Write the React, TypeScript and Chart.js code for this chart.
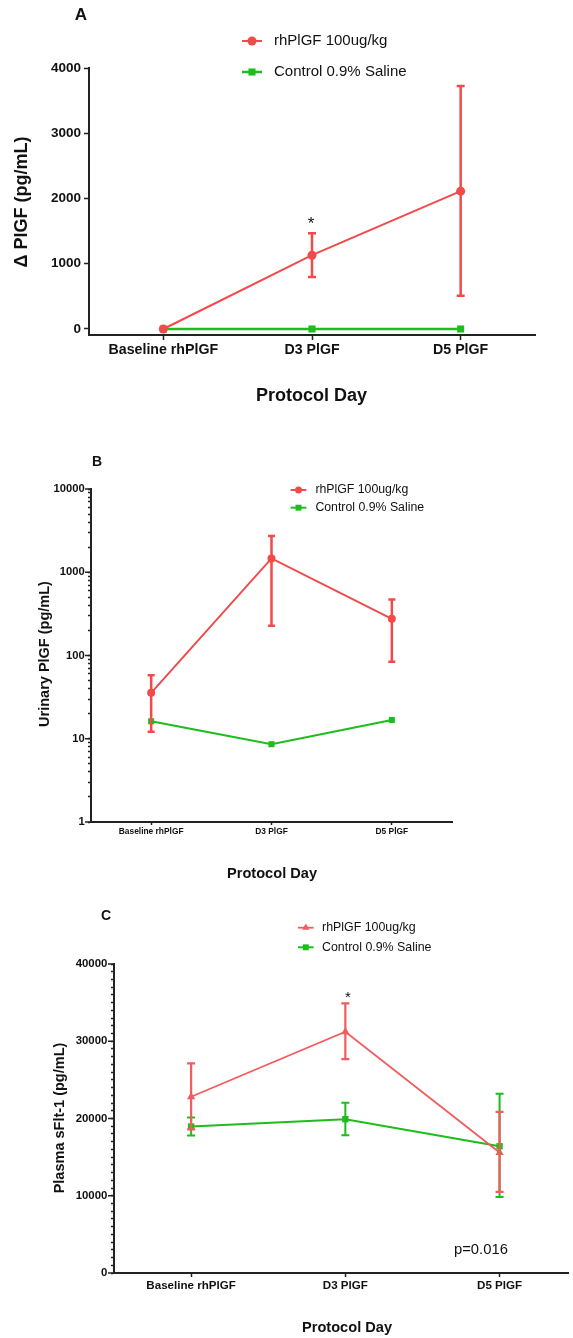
import React, { useEffect, useRef } from 'react';
import { Chart, registerables } from 'chart.js';

Chart.register(...registerables);

const FONT = '"Liberation Sans", Arial, Helvetica, sans-serif';

// ---------- data ----------
const categories = ['Baseline rhPlGF', 'D3 PlGF', 'D5 PlGF'];
const seriesNames = ['rhPlGF 100ug/kg', 'Control 0.9% Saline'];

// Panel A: delta PlGF (pg/mL)
const aTreat = [0, 1131, 2113];
const aTreatLo: (number | null)[] = [null, 798, 511];
const aTreatHi: (number | null)[] = [null, 1468, 3724];
const aCtrl = [0, 0, 0];
const aCtrlLo: (number | null)[] = [null, null, null];
const aCtrlHi: (number | null)[] = [null, null, null];
const aYTicks = [0, 1000, 2000, 3000, 4000];

// Panel B: urinary PlGF (pg/mL), log scale
const bTreat = [35.6, 1467, 276];
const bTreatLo: (number | null)[] = [12.1, 227, 84];
const bTreatHi: (number | null)[] = [58, 2722, 471];
const bCtrl = [16.2, 8.6, 16.8];
const bCtrlLo: (number | null)[] = [null, null, null];
const bCtrlHi: (number | null)[] = [null, null, null];
const bYMajor = [1, 10, 100, 1000, 10000];

// Panel C: plasma sFlt-1 (pg/mL)
const cTreat = [22810, 31230, 15590];
const cTreatLo: (number | null)[] = [18600, 27690, 10500];
const cTreatHi: (number | null)[] = [27130, 34900, 20860];
const cCtrl = [18960, 19910, 16410];
const cCtrlLo: (number | null)[] = [17800, 17840, 9850];
const cCtrlHi: (number | null)[] = [20130, 22030, 23200];
const cYMajor = [0, 10000, 20000, 30000, 40000];

// minor tick positions (axis decoration)
const bYTicks: number[] = [];
for (let d = 0; d < 4; d++) for (let m = 1; m < 10; m++) bYTicks.push(m * Math.pow(10, d));
bYTicks.push(10000);
const cYTicks: number[] = [];
for (let v = 0; v <= 40000; v += 1000) cYTicks.push(v);

const RED = '#f24a4a';
const RED_C = '#f25c5c';
const GREEN = '#1dbd1d';
const TXT = '#111';
const AXIS = '#222';

type Series = {
  label: string; values: number[]; lo: (number | null)[]; hi: (number | null)[];
  color: string; pointStyle: string; radius: number; lineWidth: number; errWidth: number; cap: number;
  legendRadius: number;
};
type TextItem = { text: string; x: number; y: number; size: number; bold?: boolean; align?: CanvasTextAlign; rotate?: boolean; baseline?: CanvasTextBaseline };
type Panel = {
  top: number; height: number;
  area: { left: number; right: number; top: number; bottom: number };
  x: { min: number; max: number; fontSize: number; tickLen: number; pad: number };
  y: { type: 'linear' | 'logarithmic'; min: number; max: number; ticks: number[]; major: number[]; fontSize: number; tickLen: number; pad: number; majorLen: number };
  border: number;
  series: Series[];
  legend: { ys: number[]; x1: number; x2: number; mx: number; tx: number; size: number };
  texts: TextItem[];
};

const panelA: Panel = {
  top: 0, height: 440,
  area: { left: 89, right: 535, top: 68, bottom: 335 },
  x: { min: -0.5, max: 2.5, fontSize: 14.2, tickLen: 5, pad: 2 },
  y: { type: 'linear', min: -92, max: 4000, ticks: aYTicks, major: aYTicks, fontSize: 13.5, tickLen: 5, pad: 3, majorLen: 0 },
  border: 2,
  series: [
    { label: seriesNames[0], values: aTreat, lo: aTreatLo, hi: aTreatHi, color: RED, pointStyle: 'circle', radius: 4.5, lineWidth: 2, errWidth: 2.5, cap: 4, legendRadius: 4.5 },
    { label: seriesNames[1], values: aCtrl, lo: aCtrlLo, hi: aCtrlHi, color: GREEN, pointStyle: 'rect', radius: 5, lineWidth: 2.5, errWidth: 2.5, cap: 4, legendRadius: 5 },
  ],
  legend: { ys: [41, 72], x1: 242, x2: 262, mx: 252, tx: 274, size: 15 },
  texts: [
    { text: 'A', x: 81, y: 15, size: 17, bold: true },
    { text: 'Δ PlGF (pg/mL)', x: 22, y: 202, size: 18, bold: true, rotate: true },
    { text: 'Protocol Day', x: 311.5, y: 396, size: 18, bold: true },
    { text: '*', x: 311, y: 229, size: 17, baseline: 'alphabetic' },
  ],
};

const panelB: Panel = {
  top: 440, height: 460,
  area: { left: 91, right: 452, top: 49, bottom: 382 },
  x: { min: -0.5, max: 2.5, fontSize: 8.4, tickLen: 3, pad: 1.3 },
  y: { type: 'logarithmic', min: 1, max: 10000, ticks: bYTicks, major: bYMajor, fontSize: 11.2, tickLen: 3, pad: 3.4, majorLen: 6 },
  border: 2,
  series: [
    { label: seriesNames[0], values: bTreat, lo: bTreatLo, hi: bTreatHi, color: RED, pointStyle: 'circle', radius: 4, lineWidth: 2, errWidth: 2.5, cap: 3.5, legendRadius: 3.5 },
    { label: seriesNames[1], values: bCtrl, lo: bCtrlLo, hi: bCtrlHi, color: GREEN, pointStyle: 'rect', radius: 4.3, lineWidth: 2, errWidth: 2, cap: 3.5, legendRadius: 4.2 },
  ],
  legend: { ys: [50, 67.7], x1: 290.6, x2: 306.3, mx: 298.5, tx: 315.4, size: 12.3 },
  texts: [
    { text: 'B', x: 97, y: 22, size: 14, bold: true },
    { text: 'Urinary PlGF (pg/mL)', x: 44.6, y: 214, size: 14.5, bold: true, rotate: true },
    { text: 'Protocol Day', x: 272, y: 434, size: 14.6, bold: true },
  ],
};

const panelC: Panel = {
  top: 900, height: 438,
  area: { left: 114, right: 573, top: 64, bottom: 373 },
  x: { min: -0.5, max: 2.445, fontSize: 11.6, tickLen: 4, pad: 2 },
  y: { type: 'linear', min: 0, max: 40000, ticks: cYTicks, major: cYMajor, fontSize: 11.4, tickLen: 3, pad: 3.7, majorLen: 6 },
  border: 2,
  series: [
    { label: seriesNames[0], values: cTreat, lo: cTreatLo, hi: cTreatHi, color: RED_C, pointStyle: 'triangle', radius: 4.8, lineWidth: 1.8, errWidth: 2.2, cap: 4, legendRadius: 4.2 },
    { label: seriesNames[1], values: cCtrl, lo: cCtrlLo, hi: cCtrlHi, color: GREEN, pointStyle: 'rect', radius: 4.5, lineWidth: 2, errWidth: 2, cap: 4, legendRadius: 4.2 },
  ],
  legend: { ys: [27.7, 47.3], x1: 298, x2: 313.6, mx: 305.8, tx: 322, size: 12.4 },
  texts: [
    { text: 'C', x: 106, y: 16, size: 14, bold: true },
    { text: 'Plasma sFlt-1 (pg/mL)', x: 59.6, y: 218, size: 14.5, bold: true, rotate: true },
    { text: 'Protocol Day', x: 347, y: 428, size: 14.6, bold: true },
    { text: '*', x: 348, y: 101.5, size: 15, baseline: 'alphabetic' },
    { text: 'p=0.016', x: 454, y: 350, size: 14.8, align: 'left' },
  ],
};

const panels = [panelA, panelB, panelC];

function drawMarker(ctx: CanvasRenderingContext2D, style: string, x: number, y: number, r: number, color: string) {
  ctx.fillStyle = color;
  ctx.beginPath();
  if (style === 'circle') {
    ctx.arc(x, y, r, 0, Math.PI * 2);
  } else if (style === 'rect') {
    const s = Math.SQRT1_2 * r;
    ctx.rect(x - s, y - s, 2 * s, 2 * s);
  } else {
    let rad = 0;
    ctx.moveTo(x + Math.sin(rad) * r, y - Math.cos(rad) * r);
    rad += (2 * Math.PI) / 3;
    ctx.lineTo(x + Math.sin(rad) * r, y - Math.cos(rad) * r);
    rad += (2 * Math.PI) / 3;
    ctx.lineTo(x + Math.sin(rad) * r, y - Math.cos(rad) * r);
    ctx.closePath();
  }
  ctx.fill();
}

function overlay(p: Panel) {
  return {
    id: 'overlay' + p.top,
    afterDatasetsDraw(chart: any) {
      const ctx: CanvasRenderingContext2D = chart.ctx;
      const xs = chart.scales.x;
      const ys = chart.scales.y;
      ctx.save();
      // error bars (control first so treatment sits on top)
      for (let k = p.series.length - 1; k >= 0; k--) {
        const s = p.series[k];
        ctx.strokeStyle = s.color;
        ctx.lineWidth = s.errWidth;
        s.values.forEach((_, i) => {
          const lo = s.lo[i];
          const hi = s.hi[i];
          if (lo == null || hi == null) return;
          const px = xs.getPixelForValue(i);
          const y1 = ys.getPixelForValue(lo);
          const y2 = ys.getPixelForValue(hi);
          ctx.beginPath();
          ctx.moveTo(px, y1); ctx.lineTo(px, y2);
          ctx.moveTo(px - s.cap, y1); ctx.lineTo(px + s.cap, y1);
          ctx.moveTo(px - s.cap, y2); ctx.lineTo(px + s.cap, y2);
          ctx.stroke();
        });
      }
      // longer major ticks on y axis
      if (p.y.majorLen > 0) {
        ctx.strokeStyle = AXIS;
        ctx.lineWidth = 1.5;
        const left = chart.chartArea.left;
        p.y.major.forEach((v) => {
          const py = ys.getPixelForValue(v);
          ctx.beginPath();
          ctx.moveTo(left - p.y.majorLen, py);
          ctx.lineTo(left, py);
          ctx.stroke();
        });
      }
      // legend
      const lg = p.legend;
      p.series.forEach((s, i) => {
        const y = lg.ys[i];
        ctx.strokeStyle = s.color;
        ctx.lineWidth = s.lineWidth;
        ctx.beginPath();
        ctx.moveTo(lg.x1, y); ctx.lineTo(lg.x2, y);
        ctx.stroke();
        drawMarker(ctx, s.pointStyle, lg.mx, y, s.legendRadius, s.color);
        ctx.fillStyle = TXT;
        ctx.font = `${lg.size}px ${FONT}`;
        ctx.textAlign = 'left';
        ctx.textBaseline = 'middle';
        ctx.fillText(s.label, lg.tx, y);
      });
      // free texts
      p.texts.forEach((t) => {
        ctx.save();
        ctx.fillStyle = TXT;
        ctx.font = `${t.bold ? 'bold ' : ''}${t.size}px ${FONT}`;
        ctx.textAlign = t.align || 'center';
        ctx.textBaseline = t.baseline || 'middle';
        ctx.translate(t.x, t.y);
        if (t.rotate) ctx.rotate(-Math.PI / 2);
        ctx.fillText(t.text, 0, 0);
        ctx.restore();
      });
      ctx.restore();
    },
  };
}

function buildConfig(p: Panel): any {
  return {
    type: 'line',
    data: {
      datasets: p.series.map((s) => ({
        label: s.label,
        data: s.values.map((v, i) => ({ x: i, y: v })),
        borderColor: s.color,
        backgroundColor: s.color,
        pointBackgroundColor: s.color,
        pointBorderColor: s.color,
        pointBorderWidth: 0,
        pointStyle: s.pointStyle,
        pointRadius: s.radius,
        pointHoverRadius: s.radius,
        borderWidth: s.lineWidth,
        tension: 0,
        fill: false,
        clip: false,
      })),
    },
    options: {
      responsive: false,
      animation: false,
      events: [],
      layout: { padding: { left: 0, top: p.area.top, right: 573 - p.area.right, bottom: 0 } },
      plugins: { legend: { display: false }, tooltip: { enabled: false }, title: { display: false } },
      scales: {
        x: {
          type: 'linear',
          min: p.x.min,
          max: p.x.max,
          afterBuildTicks: (ax: any) => { ax.ticks = categories.map((_, i) => ({ value: i })); },
          afterFit: (ax: any) => { ax.height = p.height - p.area.bottom; },
          ticks: {
            autoSkip: false,
            maxRotation: 0,
            minRotation: 0,
            padding: p.x.pad,
            color: TXT,
            font: { family: FONT, size: p.x.fontSize, weight: 'bold' },
            callback: (v: number) => categories[Math.round(v)] ?? '',
          },
          grid: { display: true, drawOnChartArea: false, drawTicks: true, tickLength: p.x.tickLen, color: AXIS, tickWidth: 1.5 },
          border: { display: true, color: AXIS, width: p.border },
        },
        y: {
          type: p.y.type,
          min: p.y.min,
          max: p.y.max,
          afterBuildTicks: (ax: any) => { ax.ticks = p.y.ticks.map((v) => ({ value: v })); },
          afterFit: (ax: any) => { ax.width = p.area.left; },
          ticks: {
            autoSkip: false,
            padding: p.y.pad,
            color: TXT,
            font: { family: FONT, size: p.y.fontSize, weight: 'bold' },
            callback: (v: number) => (p.y.major.indexOf(v) >= 0 ? String(v) : ''),
          },
          grid: { display: true, drawOnChartArea: false, drawTicks: true, tickLength: p.y.tickLen, color: AXIS, tickWidth: 1.5 },
          border: { display: true, color: AXIS, width: p.border },
        },
      },
    },
    plugins: [overlay(p)],
  };
}

export default function App() {
  const r0 = useRef<HTMLCanvasElement>(null);
  const r1 = useRef<HTMLCanvasElement>(null);
  const r2 = useRef<HTMLCanvasElement>(null);
  const refs = [r0, r1, r2];
  useEffect(() => {
    const charts = panels.map((p, i) => new Chart(refs[i].current as HTMLCanvasElement, buildConfig(p)));
    return () => charts.forEach((c) => c.destroy());
  }, []);
  return (
    <div style={{ position: 'absolute', left: 0, top: 0, width: 573, height: 1338, background: '#fff', overflow: 'hidden' }}>
      {panels.map((p, i) => (
        <canvas
          key={i}
          ref={refs[i]}
          width={573}
          height={p.height}
          style={{ position: 'absolute', left: 0, top: p.top, width: 573, height: p.height, display: 'block' }}
        />
      ))}
    </div>
  );
}
